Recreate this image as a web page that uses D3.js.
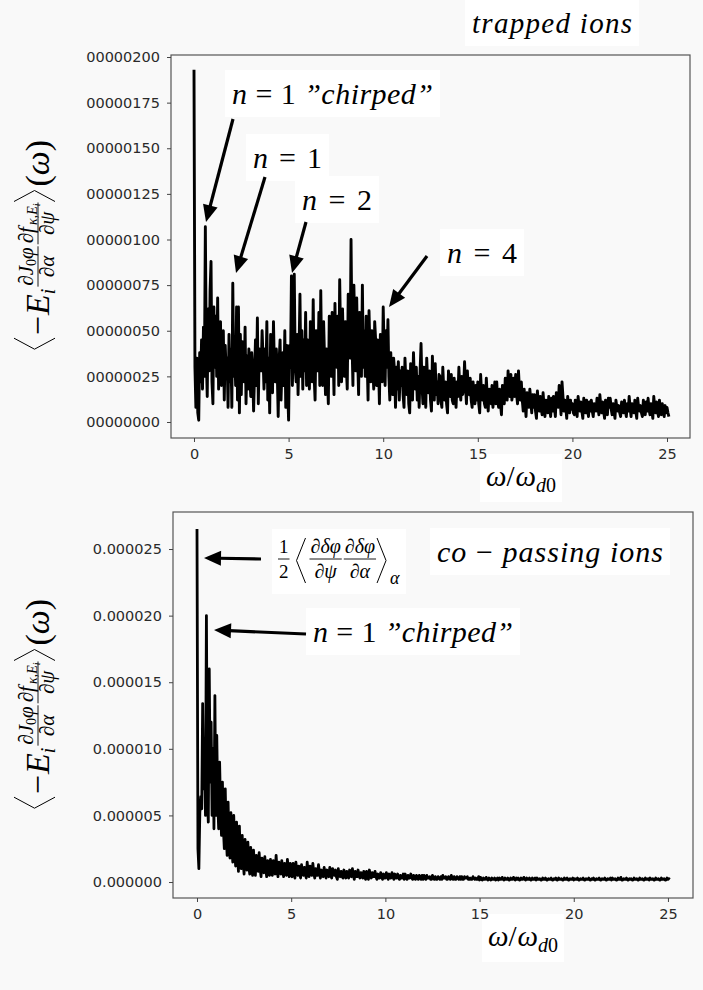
<!DOCTYPE html>
<html>
<head>
<meta charset="utf-8">
<script src="https://cdn.jsdelivr.net/npm/d3@7"></script>
<style>
    body { margin: 0; background: #f9f9f9; }
    .tick text { font-family: 'DejaVu Sans', sans-serif; fill: #2a2a2a; }
</style>
</head>
<body>
<div id="container"></div>
<script>
const width = 703;
const height = 990;

const SERIF = "'Liberation Serif', 'DejaVu Serif', serif";

// spacing of the spectra samples in omega / omega_d0
const STEP = 0.05;

// trapped ions, in the units of the tick labels (00000200 == 200), one row per unit of omega
const trappedValues = [
    193, 30, 8, 35, 5, 1, 38, 22, 45, 18, 52, 25, 107, 35, 14, 62, 28, 72, 88, 22,
    10, 63, 30, 58, 25, 68, 18, 45, 55, 20, 30, 50, 12, 42, 28, 35, 8, 48, 22, 40,
    8, 76, 25, 40, 20, 63, 12, 63, 5, 48, 15, 44, 30, 22, 52, 10, 36, 18, 40, 25,
    14, 38, 28, 6, 26, 45, 20, 57, 10, 40, 32, 28, 50, 35, 18, 40, 22, 55, 12, 35,
    5, 48, 26, 16, 55, 30, 22, 40, 28, 3, 34, 45, 12, 30, 38, 20, 50, 8, 42, 18,
    1, 42, 30, 80, 20, 45, 81, 30, 22, 48, 15, 38, 70, 25, 50, 18, 45, 28, 60, 20,
    45, 30, 18, 55, 35, 22, 67, 25, 12, 50, 40, 28, 60, 20, 72, 30, 20, 55, 35, 15,
    40, 25, 10, 58, 30, 25, 60, 40, 15, 65, 35, 30, 58, 20, 78, 45, 22, 62, 38, 25,
    55, 30, 18, 70, 40, 35, 100, 45, 20, 75, 50, 28, 68, 35, 15, 60, 42, 25, 75, 30,
    50, 25, 58, 35, 12, 61, 40, 22, 50, 30, 18, 55, 45, 20, 45, 32, 10, 48, 35, 22,
    63, 40, 20, 50, 30, 56, 25, 12, 38, 20, 15, 35, 28, 8, 30, 18, 33, 12, 28, 20,
    30, 15, 8, 35, 22, 15, 28, 10, 5, 32, 20, 12, 38, 22, 18, 30, 12, 25, 8, 28,
    43, 20, 10, 30, 18, 8, 35, 22, 16, 28, 12, 6, 36, 20, 12, 32, 15, 22, 10, 26,
    25, 12, 8, 30, 18, 12, 22, 10, 5, 28, 18, 14, 26, 12, 10, 24, 16, 8, 22, 14,
    30, 18, 12, 25, 15, 18, 33, 20, 10, 28, 16, 15, 24, 12, 8, 22, 14, 10, 20, 12,
    22, 10, 5, 26, 15, 12, 20, 10, 8, 24, 14, 6, 18, 12, 10, 20, 8, 14, 22, 10,
    22, 12, 8, 18, 10, 4, 20, 14, 10, 24, 15, 12, 28, 18, 14, 26, 12, 16, 24, 14,
    26, 15, 10, 28, 18, 12, 22, 12, 6, 18, 10, 3, 16, 10, 8, 18, 12, 5, 15, 8,
    15, 6, 2, 17, 10, 6, 14, 8, 4, 16, 9, 3, 12, 7, 5, 14, 8, 3, 13, 6,
    14, 8, 3, 16, 10, 8, 20, 12, 4, 22, 14, 6, 12, 8, 2, 14, 9, 5, 12, 7,
    10, 5, 4, 12, 7, 3, 14, 9, 6, 11, 6, 2, 13, 8, 5, 12, 7, 3, 11, 6,
    12, 6, 3, 10, 8, 6, 13, 8, 4, 15, 9, 5, 11, 6, 2, 12, 7, 4, 13, 8,
    13, 7, 4, 10, 6, 2, 12, 8, 6, 9, 5, 3, 11, 7, 5, 12, 6, 3, 10, 6,
    14, 8, 3, 10, 7, 5, 12, 6, 2, 13, 8, 6, 9, 5, 3, 12, 7, 4, 11, 6,
    13, 7, 4, 10, 6, 2, 14, 8, 5, 11, 6, 3, 12, 7, 4, 10, 6, 3, 9, 5,
    8, 5, 3
];

// co-passing ions, x 1e-6, one row per unit of omega
const passingValues = [
    26.5, 2.5, 1.0, 5.2, 6.4, 5.5, 13.4, 7.0, 9.5, 5.0, 20.0, 6.5, 4.5, 16.0, 7.5, 12.0, 5.0, 10.0, 4.0, 14.0,
    5.0, 11.0, 6.0, 4.0, 9.0, 5.5, 3.5, 7.5, 4.0, 2.5, 7.0, 3.5, 2.0, 6.0, 3.0, 1.8, 5.2, 2.5, 1.5, 5.0,
    2.5, 1.2, 4.5, 2.0, 0.8, 4.2, 1.8, 1.0, 3.5, 1.5, 0.6, 3.2, 1.4, 0.9, 3.0, 1.2, 0.6, 2.6, 1.2, 0.5,
    2.4, 1.1, 0.5, 2.0, 1.0, 0.8, 2.2, 1.0, 0.4, 1.8, 0.9, 0.7, 1.9, 0.9, 0.4, 1.6, 0.8, 0.5, 1.7, 0.8,
    0.5, 1.6, 0.8, 0.6, 2.0, 0.9, 0.4, 1.5, 0.7, 0.6, 1.6, 0.8, 0.4, 1.4, 0.7, 0.5, 1.7, 0.8, 0.4, 1.4,
    0.6, 0.4, 1.4, 0.7, 0.3, 1.5, 0.8, 0.5, 1.2, 0.6, 0.3, 1.3, 0.7, 0.5, 1.1, 0.6, 0.3, 1.5, 0.7, 0.4,
    1.2, 0.6, 0.5, 1.4, 0.7, 0.3, 1.0, 0.5, 0.5, 1.3, 0.7, 0.3, 0.9, 0.5, 0.4, 1.1, 0.6, 0.3, 0.9, 0.5,
    0.4, 1.1, 0.5, 0.3, 1.0, 0.6, 0.5, 0.9, 0.4, 0.2, 1.0, 0.5, 0.4, 0.8, 0.4, 0.3, 0.9, 0.5, 0.3, 0.8,
    0.4, 0.3, 0.9, 0.5, 0.4, 1.0, 0.5, 0.2, 0.8, 0.4, 0.4, 0.9, 0.5, 0.3, 0.7, 0.4, 0.3, 0.8, 0.4, 0.2,
    0.8, 0.4, 0.2, 0.9, 0.5, 0.3, 0.7, 0.4, 0.4, 0.8, 0.4, 0.2, 0.6, 0.3, 0.3, 0.7, 0.4, 0.2, 0.6, 0.3,
    0.3, 0.7, 0.4, 0.2, 0.6, 0.3, 0.3, 0.7, 0.4, 0.2, 0.6, 0.3, 0.3, 0.6, 0.3, 0.2, 0.5, 0.3, 0.3, 0.6,
    0.2, 0.6, 0.3, 0.2, 0.5, 0.3, 0.3, 0.6, 0.3, 0.2, 0.5, 0.3, 0.2, 0.5, 0.3, 0.2, 0.5, 0.3, 0.2, 0.5,
    0.2, 0.5, 0.3, 0.2, 0.5, 0.3, 0.3, 0.4, 0.2, 0.2, 0.5, 0.3, 0.2, 0.4, 0.2, 0.2, 0.4, 0.3, 0.2, 0.4,
    0.2, 0.5, 0.3, 0.3, 0.4, 0.2, 0.2, 0.4, 0.3, 0.2, 0.5, 0.3, 0.2, 0.4, 0.2, 0.2, 0.4, 0.3, 0.2, 0.4,
    0.2, 0.4, 0.2, 0.2, 0.4, 0.3, 0.3, 0.4, 0.2, 0.2, 0.3, 0.2, 0.2, 0.4, 0.3, 0.2, 0.3, 0.2, 0.2, 0.4,
    0.15, 0.35, 0.2, 0.15, 0.3, 0.2, 0.2, 0.35, 0.2, 0.15, 0.3, 0.2, 0.15, 0.3, 0.2, 0.2, 0.3, 0.15, 0.2, 0.3,
    0.15, 0.3, 0.2, 0.2, 0.35, 0.2, 0.15, 0.3, 0.2, 0.2, 0.3, 0.15, 0.15, 0.3, 0.2, 0.2, 0.35, 0.2, 0.15, 0.3,
    0.2, 0.3, 0.15, 0.15, 0.3, 0.2, 0.2, 0.35, 0.2, 0.15, 0.3, 0.2, 0.2, 0.3, 0.15, 0.15, 0.3, 0.2, 0.2, 0.3,
    0.15, 0.3, 0.2, 0.2, 0.25, 0.15, 0.15, 0.3, 0.2, 0.2, 0.3, 0.15, 0.15, 0.25, 0.2, 0.2, 0.3, 0.15, 0.15, 0.25,
    0.2, 0.3, 0.15, 0.15, 0.3, 0.2, 0.2, 0.25, 0.15, 0.15, 0.3, 0.2, 0.2, 0.3, 0.15, 0.15, 0.25, 0.2, 0.2, 0.3,
    0.15, 0.25, 0.2, 0.2, 0.3, 0.15, 0.15, 0.25, 0.2, 0.2, 0.3, 0.15, 0.15, 0.25, 0.2, 0.2, 0.3, 0.15, 0.15, 0.25,
    0.2, 0.3, 0.15, 0.15, 0.25, 0.2, 0.2, 0.3, 0.15, 0.15, 0.25, 0.2, 0.2, 0.3, 0.15, 0.15, 0.25, 0.2, 0.2, 0.3,
    0.15, 0.3, 0.2, 0.2, 0.25, 0.15, 0.15, 0.3, 0.2, 0.2, 0.35, 0.15, 0.15, 0.25, 0.2, 0.2, 0.3, 0.15, 0.15, 0.25,
    0.2, 0.25, 0.15, 0.15, 0.3, 0.2, 0.2, 0.25, 0.15, 0.15, 0.3, 0.2, 0.2, 0.25, 0.15, 0.15, 0.3, 0.2, 0.2, 0.25,
    0.15, 0.3, 0.2, 0.2, 0.25, 0.15, 0.15, 0.3, 0.2, 0.2, 0.25, 0.15, 0.15, 0.3, 0.2, 0.2, 0.25, 0.15, 0.15, 0.3,
    0.2, 0.25, 0.2
];

const xTicks = [0, 5, 10, 15, 20, 25];
const trappedYTicks = [0, 25, 50, 75, 100, 125, 150, 175, 200];
const trappedYLabels = ['00000000', '00000025', '00000050', '00000075', '00000100',
    '00000125', '00000150', '00000175', '00000200'];
const passingYTicks = [0, 5, 10, 15, 20, 25];
const passingYLabels = ['0.000000', '0.000005', '0.000010', '0.000015', '0.000020', '0.000025'];

const panels = [
    {
        values: trappedValues, yTicks: trappedYTicks, yLabels: trappedYLabels,
        frame: { l: 171, r: 690, t: 55, b: 438 },
        xDomain: [-1.2156, 26.215], yDomain: [-8.77, 201.1],
        stroke: 2.9, yLabelCenter: 245, xLabel: { x: 486, y: 486 }
    },
    {
        values: passingValues, yTicks: passingYTicks, yLabels: passingYLabels,
        frame: { l: 173, r: 693, t: 512, b: 898 },
        xDomain: [-1.274, 26.33], yDomain: [-1.2, 27.78],
        stroke: 2.8, yLabelCenter: 704, xLabel: { x: 488, y: 946 }
    }
];

let svg = d3.select('#container').append('svg')
    .attr('width', width)
    .attr('height', height)
    .style('display', 'block');

svg.append('rect').attr('width', width).attr('height', height).attr('fill', '#f9f9f9');

let boxes = svg.append('g');
let plots = svg.append('g');
let notes = svg.append('g');

// lays out a row of math pieces from x, returns the x where it ends
function mathRun(g, items, x, y) {
    items.forEach(it => {
        if (it.frac) {
            const lineY = y - (it.axis || 8);
            const num = g.append('g');
            const den = g.append('g');
            const wn = mathRun(num, it.frac[0], 0, lineY - (it.up || 5));
            const wd = mathRun(den, it.frac[1], 0, lineY + (it.down || 16));
            const w = Math.max(wn, wd);
            const pad = 2;
            num.attr('transform', `translate(${x + pad + (w - wn) / 2},0)`);
            den.attr('transform', `translate(${x + pad + (w - wd) / 2},0)`);
            g.append('line')
                .attr('x1', x + 1).attr('x2', x + w + 2 * pad - 1)
                .attr('y1', lineY).attr('y2', lineY)
                .attr('stroke', '#000').attr('stroke-width', 0.9);
            x += w + 2 * pad;
        } else if (it.br) {
            const top = y - it.up, bot = y + it.down, mid = (top + bot) / 2;
            const d = it.br == '<'
                ? `M${x + it.w},${top}L${x + 1},${mid}L${x + it.w},${bot}`
                : `M${x},${top}L${x + it.w - 1},${mid}L${x},${bot}`;
            g.append('path').attr('d', d).attr('fill', 'none')
                .attr('stroke', '#000').attr('stroke-width', 1);
            x += it.w + 3;
        } else if (it.sp) {
            x += it.sp;
        } else {
            const t = g.append('text')
                .attr('x', x)
                .attr('y', y + (it.dy || 0))
                .style('font-family', SERIF)
                .style('font-size', it.s + 'px')
                .style('font-style', it.i ? 'italic' : 'normal')
                .text(it.t);
            x += t.node().getComputedTextLength() + (it.dx || 0);
        }
    });
    return x;
}

function arrow(x1, y1, x2, y2) {
    const dx = x2 - x1, dy = y2 - y1, L = Math.hypot(dx, dy);
    const ux = dx / L, uy = dy / L;
    const hl = 17, hw = 7.5;
    const bx = x2 - ux * hl, by = y2 - uy * hl;
    notes.append('line')
        .attr('x1', x1).attr('y1', y1).attr('x2', bx + ux * 2).attr('y2', by + uy * 2)
        .attr('stroke', '#000').attr('stroke-width', 3.2);
    notes.append('path')
        .attr('d', `M${x2},${y2}L${bx - uy * hw},${by + ux * hw}L${bx + uy * hw},${by - ux * hw}Z`)
        .attr('fill', '#000');
}

function whiteBox(node, pad) {
    const b = node.getBBox();
    boxes.append('rect')
        .attr('x', b.x - pad).attr('y', b.y - pad)
        .attr('width', b.width + 2 * pad).attr('height', b.height + 2 * pad)
        .attr('fill', '#fff');
}

function label(parts, x, y, w, size) {
    let t = notes.append('text')
        .attr('x', x).attr('y', y)
        .attr('textLength', w).attr('lengthAdjust', 'spacing')
        .style('font-family', SERIF)
        .style('font-size', size + 'px');
    parts.forEach(p => {
        t.append('tspan')
            .style('font-family', SERIF)
            .style('font-style', p[1] ? 'italic' : 'normal')
            .text(p[0]);
    });
    whiteBox(t.node(), 7);
}

const d = (s) => ({ t: '∂', s: s });

const yLabelItems = [
    { br: '<', up: 35, down: 6, w: 12 },
    { t: '−', s: 34, dx: 1 },
    { t: 'E', s: 34, i: 1 },
    { t: 'i', s: 20, i: 1, dy: 6, dx: 1 },
    { frac: [[d(21), { t: 'J', s: 21, i: 1 }, { t: '0', s: 14, dy: 3 }, { t: 'φ', s: 21, i: 1 }],
             [d(21), { t: 'α', s: 21, i: 1 }]], axis: 11, up: 5, down: 16 },
    { frac: [[d(21), { t: 'f', s: 21, i: 1, dx: 2 }, { t: 'κ,E', s: 14, i: 1, dy: 4 }, { t: 'i', s: 10, i: 1, dy: 7 }],
             [d(21), { t: 'ψ', s: 21, i: 1 }]], axis: 11, up: 5, down: 16 },
    { br: '>', up: 35, down: 6, w: 12 },
    { t: '(', s: 34 }, { t: 'ω', s: 34, i: 1 }, { t: ')', s: 34 }
];

const xLabelItems = [
    { t: 'ω', s: 29, i: 1 }, { t: '/', s: 29, dx: 1 }, { t: 'ω', s: 29, i: 1 },
    { t: 'd', s: 20, i: 1, dy: 6 }, { t: '0', s: 20, dy: 6 }
];

panels.forEach(p => {
    const x = d3.scaleLinear().domain(p.xDomain).range([p.frame.l, p.frame.r]);
    const y = d3.scaleLinear().domain(p.yDomain).range([p.frame.b, p.frame.t]);
    const g = plots.append('g');

    g.append('path')
        .datum(p.values)
        .attr('fill', 'none')
        .attr('stroke', '#000')
        .attr('stroke-width', p.stroke)
        .attr('stroke-linejoin', 'round')
        .attr('d', d3.line().x((v, i) => x(i * STEP)).y(v => y(v)));

    g.append('rect')
        .attr('x', p.frame.l).attr('y', p.frame.t)
        .attr('width', p.frame.r - p.frame.l).attr('height', p.frame.b - p.frame.t)
        .attr('fill', 'none').attr('stroke', '#555').attr('stroke-width', 1.2);

    let xa = g.append('g')
        .attr('transform', `translate(0,${p.frame.b})`)
        .call(d3.axisBottom(x).tickValues(xTicks).tickSize(4).tickPadding(7));
    let ya = g.append('g')
        .attr('transform', `translate(${p.frame.l},0)`)
        .call(d3.axisLeft(y).tickValues(p.yTicks).tickFormat((v, i) => p.yLabels[i]).tickSize(4).tickPadding(7));
    [xa, ya].forEach(a => {
        a.select('.domain').remove();
        a.selectAll('.tick line').attr('stroke', '#444');
        a.selectAll('.tick text').style('font-size', '14.5px');
    });

    // y axis label, rotated
    let yl = notes.append('g');
    const W = mathRun(yl, yLabelItems, 0, 0);
    yl.attr('transform', `translate(49,${p.yLabelCenter + W / 2}) rotate(-90)`);

    let xl = notes.append('g');
    mathRun(xl, xLabelItems, p.xLabel.x, p.xLabel.y);
    whiteBox(xl.node(), 6);
});

// annotations
label([['trapped', 1], [' ', 0], ['ions', 1]], 472, 33, 160, 29);
label([['n', 1], [' = 1 ', 0], ['”chirped”', 1]], 232, 104, 201, 30);
label([['n', 1], [' = 1', 0]], 253, 168, 69, 30);
label([['n', 1], [' = 2', 0]], 302, 210, 70, 30);
label([['n', 1], [' = 4', 0]], 447, 263, 70, 30);
label([['co', 1], [' − ', 0], ['passing', 1], [' ', 0], ['ions', 1]], 437, 562, 226, 30);
label([['n', 1], [' = 1 ', 0], ['”chirped”', 1]], 313, 642, 200, 30);

let avg = notes.append('g');
mathRun(avg, [
    { frac: [[{ t: '1', s: 19 }], [{ t: '2', s: 19 }]], axis: 7, up: 6, down: 19 },
    { sp: 5 },
    { br: '<', up: 28, down: 17, w: 10 },
    { frac: [[d(20), { t: 'δφ', s: 20, i: 1 }], [d(20), { t: 'ψ', s: 20, i: 1 }]], axis: 7, up: 6, down: 19 },
    { frac: [[d(20), { t: 'δφ', s: 20, i: 1 }], [d(20), { t: 'α', s: 20, i: 1 }]], axis: 7, up: 6, down: 19 },
    { br: '>', up: 28, down: 17, w: 10 },
    { t: 'α', s: 18, i: 1, dy: 18 }
], 277, 566);
whiteBox(avg.node(), 6);

arrow(233, 119, 206, 222);
arrow(265, 177, 236, 273);
arrow(306, 222, 292, 273);
arrow(427, 256, 389, 307);
arrow(261, 559, 204, 558);
arrow(306, 634, 214, 630);
</script>
</body>
</html>
